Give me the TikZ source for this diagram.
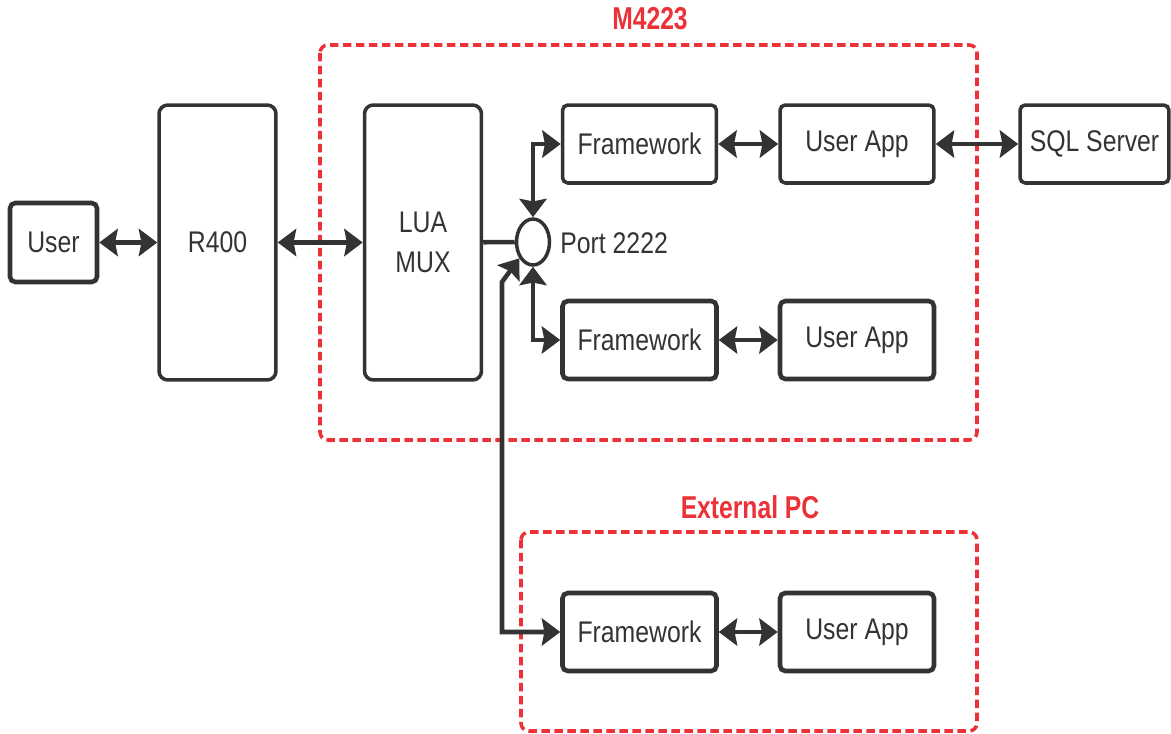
\documentclass[tikz,border=0pt]{standalone}
\usepackage{fontspec}
\setmainfont{Liberation Sans}[FakeStretch=0.83]
\newfontfamily\titlefont{Liberation Sans}[FakeStretch=0.78]
\usetikzlibrary{arrows.meta,shapes.geometric}
\definecolor{ink}{RGB}{51,51,51}
\definecolor{zone}{RGB}{236,50,56}
\begin{document}
\begin{tikzpicture}[x=0.02cm,y=-0.02cm,
  box/.style={draw=ink,line width=2pt,rounded corners=3pt,inner sep=0pt,
    font=\fontsize{17}{22.7}\selectfont,text=ink,align=center},
  tall/.style={box,rounded corners=5pt,minimum width=2.34cm,minimum height=5.5cm},
  small/.style={box,minimum width=3.08cm,minimum height=1.56cm},
  link/.style={draw=ink,line width=2.6pt,
    {Stealth[length=10.5pt,width=15.5pt,inset=1.5pt]}-{Stealth[length=10.5pt,width=15.5pt,inset=1.5pt]}},
  feed/.style={draw=ink,line width=2.6pt},
  area/.style={draw=zone,line width=2pt,dash pattern=on 4.8pt off 2.6pt,rounded corners=4.5pt},
  areatitle/.style={text=zone,font=\titlefont\bfseries\fontsize{18}{20}\selectfont}]
\useasboundingbox (0,0) rectangle (1171,734);

% device boundaries
\draw[area] (320,45) rectangle (977,440);
\node[areatitle] (mtitle) at (650,19) {M4223};
\draw[area] (521,532) rectangle (977,731);
\node[areatitle] (ptitle) at (750,507) {External PC};

% blocks
\node[box,minimum width=1.74cm,minimum height=1.58cm,line width=2.6pt] (user) at (53.5,242.5) {User};
\node[tall] (r400) at (217.5,242.5) {R400};
\node[tall] (mux) at (423,242.5) {LUA\\MUX};
\node[draw=ink,line width=2pt,ellipse,minimum width=0.66cm,minimum height=0.92cm,inner sep=0pt] (port) at (533,242) {};
\node[anchor=west,text=ink,font=\fontsize{17}{20}\selectfont,inner sep=0pt] (portlbl) at (560,243) {Port 2222};

\node[small] (fw1) at (639.5,144) {Framework};
\node[small] (app1) at (857,144) {User App};
\node[small,minimum width=2.98cm] (sql) at (1094.5,144) {SQL Server};
\node[small,line width=2.6pt] (fw2) at (639.5,340) {Framework};
\node[small,line width=2.6pt] (app2) at (857,340) {User App};
\node[small,line width=2.6pt] (fw3) at (639.5,632) {Framework};
\node[small,line width=2.6pt] (app3) at (857,632) {User App};

% connections
\draw[link] (user) -- (r400);
\draw[link] (r400) -- (mux);
\draw[feed] (mux) -- (port);
\draw[link] (port.north) |- (fw1.west);
\draw[link] (port.south) |- (fw2.west);
\coordinate (ext) at (502,282);
\draw[link] (port.-130) -- (ext) |- (fw3.west);
\draw[link] (fw1) -- (app1);
\draw[link] (app1) -- (sql);
\draw[link] (fw2) -- (app2);
\draw[link] (fw3) -- (app3);
\end{tikzpicture}
\end{document}
